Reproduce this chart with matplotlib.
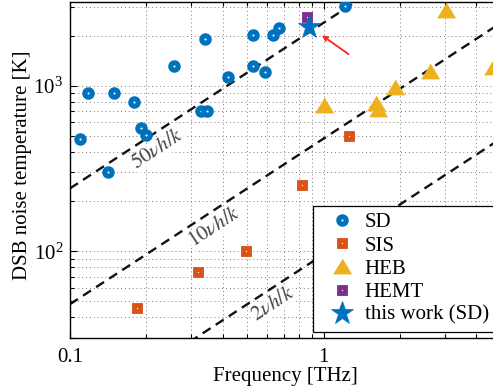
import numpy as np
import matplotlib
matplotlib.use("Agg")
import matplotlib.pyplot as plt
from matplotlib.ticker import FixedLocator, LogLocator, NullFormatter

plt.rcParams['font.family'] = ['Liberation Serif', 'DejaVu Serif']
plt.rcParams['mathtext.fontset'] = 'stix'

# ---- data (frequency in THz, DSB noise temperature in K) ----
sd_f = [0.1095, 0.1178, 0.1492, 0.179, 0.1908, 0.1997, 0.1413, 0.2577, 0.3417,
        0.3294, 0.348, 0.4212, 0.5288, 0.5288, 0.5846, 0.6288, 0.6637, 1.21]
sd_t = [480, 907, 907, 801, 558, 507, 303, 1320, 1919,
        707, 707, 1133, 2029, 1320, 1214, 2029, 2236, 3033]

sis_f = [1.256, 0.818, 0.184, 0.3206, 0.4963]
sis_t = [500, 250, 45.4, 74.7, 100]

heb_f = [3.036, 2.624, 1.909, 1.606, 1.635, 1.0, 4.656]
heb_t = [2870, 1231, 986, 790, 727, 768, 1302]

hemt_f = [0.857]
hemt_t = [2604]

this_f = [0.873]
this_t = [2266]

h_over_k = 47.99          # K per THz
line_mult = [50, 10, 2]
line_labels = [r'$50\nu h/k$', r'$10\nu h/k$', r'$2\nu h/k$']
label_pos = [(0.2226, 411), (0.374, 139), (0.634, 48)]

xlim = (0.1, 5)
ylim = (30, 3200)

W, H = 493, 392
FS = 15
fig = plt.figure(figsize=(W / 100, H / 100), dpi=100)
ax = fig.add_axes([70 / W, 54 / H, 431 / W, 336 / H])
ax.set_xscale('log')
ax.set_yscale('log')
ax.set_xlim(*xlim)
ax.set_ylim(*ylim)

# grid
ax.grid(True, which='both', linestyle=(0, (1, 3)), color='#444444', lw=0.7, alpha=0.7)
ax.set_axisbelow(True)

# theoretical lines
xl = np.array(xlim)
for m in line_mult:
    ax.plot(xl, m * h_over_k * xl, color='#111111', lw=1.7,
            linestyle=(0, (4, 2.6)), zorder=2)

for lab, (fx, ty) in zip(line_labels, label_pos):
    ax.text(fx, ty, lab, rotation=33.3, ha='center', va='center', fontsize=FS,
            color='#444444', zorder=3,
            bbox=dict(facecolor='white', edgecolor='none', alpha=0.75, pad=0.5))

blue = '#0072BD'
orange = '#D95319'
yellow = '#EDB120'
purple = '#7E2F8E'

tri = [(-1.2, -1), (1.2, -1), (0, 1)]

ax.plot(sd_f, sd_t, 'o', ms=5.3, mfc='white', mec=blue, mew=3.7, ls='none',
        label='SD', zorder=4)
ax.plot(sis_f, sis_t, 's', ms=4.8, mfc='white', mec=orange, mew=3.5, ls='none',
        label='SIS', zorder=4)
ax.plot(heb_f, heb_t, marker=tri, ms=13, mfc=yellow, mec=yellow, mew=0.5,
        ls='none', label='HEB', zorder=4)
ax.plot(hemt_f, hemt_t, 's', ms=4.8, mfc='white', mec=purple, mew=3.5,
        ls='none', label='HEMT', zorder=4)
ax.plot(this_f, this_t, '*', ms=17, mfc=blue, mec=blue, mew=0.5, ls='none',
        label='this work (SD)', zorder=5)

# red arrow
ax.annotate('', xy=(0.964, 2057), xytext=(1.279, 1516),
            arrowprops=dict(arrowstyle='->', color='#FF2020', lw=1.3,
                            mutation_scale=8), zorder=6)

# ticks
ax.xaxis.set_major_locator(FixedLocator([0.1, 1, 10]))
ax.set_xticklabels(['0.1', '1', '10'])
ax.xaxis.set_minor_locator(LogLocator(base=10, subs=np.arange(2, 10)))
ax.xaxis.set_minor_formatter(NullFormatter())
ax.yaxis.set_minor_locator(LogLocator(base=10, subs=np.arange(2, 10)))
ax.yaxis.set_minor_formatter(NullFormatter())
ax.tick_params(which='both', direction='in', top=True, right=True, labelsize=FS,
               width=0.8)
ax.tick_params(which='major', length=5)
ax.tick_params(axis='x', which='major', pad=7)
ax.tick_params(axis='y', which='major', pad=5)
ax.tick_params(which='minor', length=3)

for s in ax.spines.values():
    s.set_linewidth(1.0)
    s.set_color('black')

ax.set_xlabel('Frequency [THz]', fontsize=FS, labelpad=0)
ax.set_ylabel('DSB noise temperature [K]', fontsize=FS)
ax.yaxis.set_label_coords(-(70 - 23) / 431, (338 - 165) / 336)
ax.yaxis.label.set_va('center')

leg = ax.legend(loc='upper left', bbox_to_anchor=((313 - 70) / 431, (338 - 206) / 336),
                borderaxespad=0, fontsize=FS, frameon=True, fancybox=False,
                framealpha=1, edgecolor='black', labelspacing=0.17,
                handletextpad=0.05, borderpad=0.33, handlelength=2.1)
leg.get_frame().set_linewidth(0.9)

fig.savefig('out.png', dpi=100)
